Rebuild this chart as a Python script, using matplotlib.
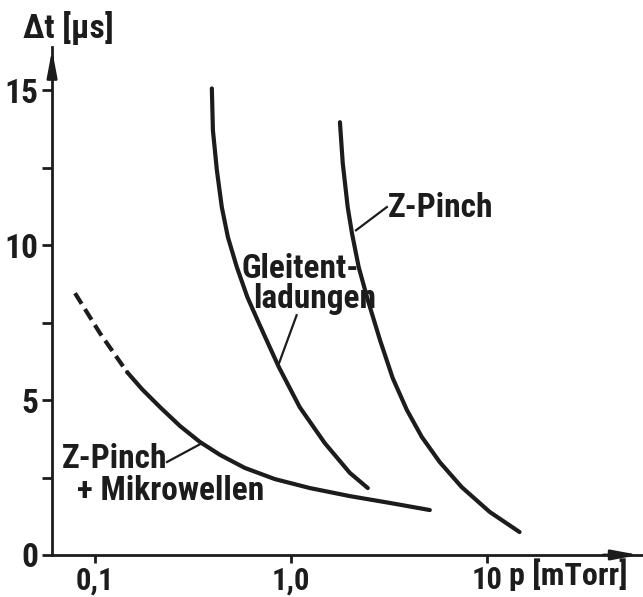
import matplotlib
matplotlib.use('Agg')
import matplotlib.pyplot as plt

plt.rcParams['font.family'] = ['Roboto Condensed', 'Roboto', 'DejaVu Sans']

# Z-Pinch + Mikrowellen (dashed part, then solid part)
mw_dash_p = [0.0791, 0.106, 0.146]
mw_dash_t = [8.45, 7.16, 5.90]
mw_p = [0.146, 0.174, 0.215, 0.272, 0.343, 0.435, 0.582, 0.828, 1.25, 2.0,
        3.20, 5.12]
mw_t = [5.90, 5.35, 4.77, 4.16, 3.65, 3.23, 2.81, 2.45, 2.16, 1.90, 1.68,
        1.45]

# Gleitentladungen
gl_p = [0.395, 0.40, 0.419, 0.444, 0.477, 0.53, 0.60, 0.687, 0.78, 0.869,
        1.11, 1.49, 2.0, 2.47]
gl_t = [15.06, 13.71, 12.42, 11.23, 10.26, 9.29, 8.32, 7.48, 6.71, 6.06,
        4.77, 3.61, 2.65, 2.16]

# Z-Pinch
zp_p = [1.78, 1.84, 1.95, 2.05, 2.22, 2.47, 2.85, 3.31, 3.91, 4.66, 5.75,
        7.45, 10.35, 14.7]
zp_t = [13.97, 12.65, 11.23, 10.39, 9.29, 8.23, 6.94, 5.71, 4.68, 3.81, 3.0,
        2.19, 1.39, 0.74]

xticks = [0.1, 1.0, 10]
xticklabels = ['0,1', '1,0', '10']
yticks = [0, 5, 10, 15]
yminor = [2.5, 7.5, 12.5]

ink = '#1c1c1c'

fig = plt.figure(figsize=(6.43, 5.97), dpi=100)
ax = fig.add_axes([0.081, 0.0704, 0.917, 0.851])

lw = 3.0
ax.plot(mw_dash_p, mw_dash_t, color=ink, lw=lw, dashes=(3.0, 1.5))
for px, pt in [(mw_p, mw_t), (gl_p, gl_t), (zp_p, zp_t)]:
    ax.plot(px, pt, color=ink, lw=lw, solid_capstyle='round',
            solid_joinstyle='round')

ax.set_xscale('log')
ax.set_xlim(0.0604, 61.8)
ax.set_ylim(0, 16.4)

for s in ['top', 'right']:
    ax.spines[s].set_visible(False)
for s in ['left', 'bottom']:
    ax.spines[s].set_linewidth(2.0)
    ax.spines[s].set_color(ink)

ax.set_xticks(xticks)
ax.set_xticklabels(xticklabels)
ax.xaxis.set_minor_locator(matplotlib.ticker.NullLocator())
ax.set_yticks(yticks)
ax.set_yticks(yminor, minor=True)
ax.tick_params(axis='both', which='both', direction='out', length=7, width=2,
               color=ink, labelsize=24, pad=3)
ax.tick_params(axis='x', which='major', length=6, labelsize=22, pad=1.5)
for lab in ax.get_xticklabels() + ax.get_yticklabels():
    lab.set_fontweight('bold')
    lab.set_color(ink)

# arrow heads on the axes
ax.annotate('', xy=(0, 1.0), xytext=(0, 0.93), xycoords='axes fraction',
            arrowprops=dict(arrowstyle='-|>,head_length=1.6,head_width=0.3',
                            color=ink, lw=2), annotation_clip=False)
ax.annotate('', xy=(1.0, 0), xytext=(0.93, 0), xycoords='axes fraction',
            arrowprops=dict(arrowstyle='-|>,head_length=1.6,head_width=0.3',
                            color=ink, lw=2), annotation_clip=False)

fig.text(0.036, 0.936, 'Δt [μs]', fontsize=24, fontweight='bold',
         ha='left', va='baseline', color=ink)
fig.text(0.792, 0.02, 'p [mTorr]', fontsize=23, fontweight='bold',
         ha='left', va='baseline', color=ink)

tk = dict(fontsize=24, fontweight='bold', ha='left', va='baseline', color=ink)
ax.text(3.13, 10.9, 'Z-Pinch', **tk)
ax.plot([3.09, 2.15], [11.23, 10.48], color=ink, lw=1.6)
ax.text(0.562, 8.94, 'Gleitent-', **tk)
ax.text(0.64, 7.97, 'ladungen', **tk)
ax.plot([1.07, 0.87], [7.74, 6.19], color=ink, lw=1.6)
ax.text(0.068, 2.81, 'Z-Pinch', **tk)
ax.text(0.081, 1.77, '+ Mikrowellen', **tk)
ax.plot([0.233, 0.352], [3.0, 3.61], color=ink, lw=1.6)

fig.savefig('out.png', dpi=100)
